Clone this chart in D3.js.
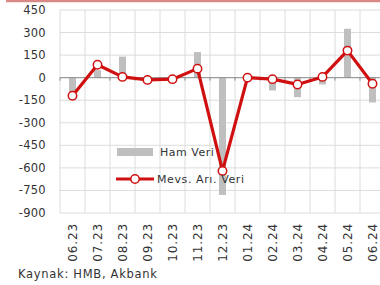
<!DOCTYPE html>
<html>
<head>
<meta charset="utf-8">
<script src="https://cdn.jsdelivr.net/npm/d3@7"></script>
<style>
  body { margin: 0; background: #fff; }
  text { font-family: "DejaVu Sans", sans-serif; }
</style>
</head>
<body>
<div id="chart"></div>
<script>
// categories and series
var months = ['06.23', '07.23', '08.23', '09.23', '10.23', '11.23', '12.23',
              '01.24', '02.24', '03.24', '04.24', '05.24', '06.24'];
var hamVeri = [-150, 50, 140, -10, 0, 170, -780, -5, -85, -130, -45, 325, -165];
var mevsVeri = [-120, 86, 5, -15, -10, 60, -620, 0, -10, -45, 5, 180, -40];
var yTicks = [450, 300, 150, 0, -150, -300, -450, -600, -750, -900];

var width = 380, height = 285;
var margin = {left: 60, top: 10};
var plotW = 325, plotH = 203;

var svg = d3.select('#chart').append('svg')
    .attr('width', width)
    .attr('height', height);

// red rule on top
svg.append('line')
    .attr('x1', 6).attr('x2', width)
    .attr('y1', 1).attr('y2', 1)
    .attr('stroke', '#d98a84').attr('stroke-width', 2.5);

var x = d3.scaleBand().domain(months).range([margin.left, margin.left + plotW]);
var y = d3.scaleLinear().domain([-900, 450]).range([margin.top + plotH, margin.top]);

var g = svg.append('g');

// grid
g.selectAll('.hgrid').data(yTicks).enter().append('line')
    .attr('x1', margin.left).attr('x2', margin.left + plotW)
    .attr('y1', function (d) { return y(d); })
    .attr('y2', function (d) { return y(d); })
    .attr('stroke', '#dcdcdc').attr('stroke-width', 1);

var bounds = months.map(function (m) { return x(m); }).concat([margin.left + plotW]);
g.selectAll('.vgrid').data(bounds).enter().append('line')
    .attr('x1', function (d) { return d; }).attr('x2', function (d) { return d; })
    .attr('y1', y(450)).attr('y2', y(-900))
    .attr('stroke', '#dcdcdc').attr('stroke-width', 1);

// y labels
g.selectAll('.ylab').data(yTicks).enter().append('text')
    .attr('x', 46)
    .attr('y', function (d) { return y(d) + 4; })
    .attr('text-anchor', 'end')
    .attr('font-size', 11.5)
    .attr('letter-spacing', 0.3)
    .attr('fill', '#333')
    .text(function (d) { return d; });

// bars
var bw = 7;
g.selectAll('.bar').data(hamVeri).enter().append('rect')
    .attr('x', function (d, i) { return x(months[i]) + x.bandwidth() / 2 - bw / 2; })
    .attr('y', function (d) { return Math.min(y(d), y(0)); })
    .attr('width', bw)
    .attr('height', function (d) { return Math.abs(y(d) - y(0)); })
    .attr('fill', '#bfbfbf');

// zero axis with ticks
g.append('line')
    .attr('x1', margin.left).attr('x2', margin.left + plotW)
    .attr('y1', y(0)).attr('y2', y(0))
    .attr('stroke', '#8c8c8c').attr('stroke-width', 1);
g.selectAll('.tick0').data(bounds).enter().append('line')
    .attr('x1', function (d) { return d; }).attr('x2', function (d) { return d; })
    .attr('y1', y(0)).attr('y2', y(0) + 3)
    .attr('stroke', '#8c8c8c');

// line
var line = d3.line()
    .x(function (d, i) { return x(months[i]) + x.bandwidth() / 2; })
    .y(function (d) { return y(d); });

g.append('path').datum(mevsVeri)
    .attr('d', line)
    .attr('fill', 'none')
    .attr('stroke', '#d01010')
    .attr('stroke-width', 3.2)
    .attr('stroke-linejoin', 'round');

g.selectAll('.pt').data(mevsVeri).enter().append('circle')
    .attr('cx', function (d, i) { return x(months[i]) + x.bandwidth() / 2; })
    .attr('cy', function (d) { return y(d); })
    .attr('r', 4.2)
    .attr('fill', '#fff')
    .attr('stroke', '#d01010')
    .attr('stroke-width', 1.5);

// x labels
g.selectAll('.xlab').data(months).enter().append('text')
    .attr('transform', function (d) {
        return 'translate(' + (x(d) + x.bandwidth() / 2 + 4.2) + ',' + 223 + ') rotate(-90)';
    })
    .attr('text-anchor', 'end')
    .attr('font-size', 12)
    .attr('letter-spacing', 0.9)
    .attr('fill', '#333')
    .text(function (d) { return d; });

// legend
var leg = svg.append('g');
leg.append('rect')
    .attr('x', 117).attr('y', 148).attr('width', 36).attr('height', 8)
    .attr('fill', '#bfbfbf');
leg.append('text')
    .attr('x', 160).attr('y', 156)
    .attr('font-size', 11).attr('letter-spacing', 0.5).attr('fill', '#333')
    .text('Ham Veri');
leg.append('line')
    .attr('x1', 116).attr('x2', 154).attr('y1', 179).attr('y2', 179)
    .attr('stroke', '#d01010').attr('stroke-width', 3.2);
leg.append('circle')
    .attr('cx', 135).attr('cy', 179).attr('r', 4.2)
    .attr('fill', '#fff').attr('stroke', '#d01010').attr('stroke-width', 1.5);
leg.append('text')
    .attr('x', 157).attr('y', 183)
    .attr('font-size', 11).attr('letter-spacing', 0.6).attr('fill', '#333')
    .text('Mevs. Arı. Veri');

// source
svg.append('text')
    .attr('x', 18).attr('y', 278)
    .attr('font-size', 11.5).attr('letter-spacing', 0.7).attr('fill', '#333')
    .text('Kaynak: HMB, Akbank');
</script>
</body>
</html>
